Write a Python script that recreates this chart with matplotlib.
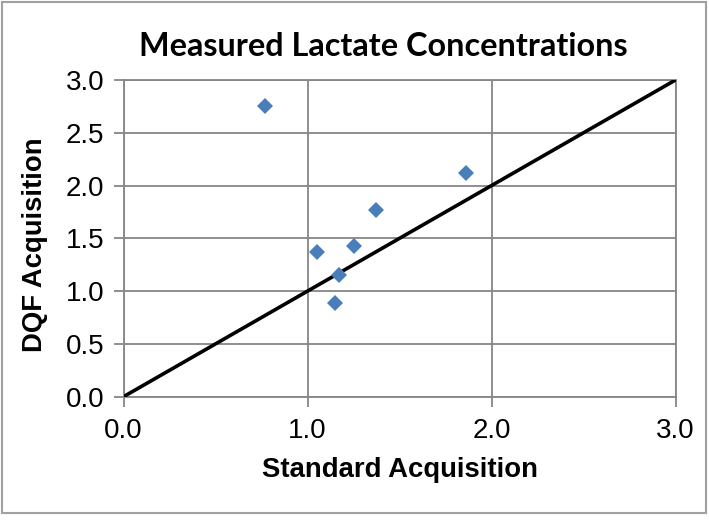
import matplotlib
matplotlib.use('Agg')
import matplotlib.pyplot as plt
from matplotlib.patches import Rectangle

# Data
standard = [0.77, 1.05, 1.17, 1.15, 1.25, 1.37, 1.86]
dqf = [2.75, 1.37, 1.15, 0.89, 1.43, 1.77, 2.12]
identity_x = [0.0, 3.0]
identity_y = [0.0, 3.0]
yticks = [0.0, 0.5, 1.0, 1.5, 2.0, 2.5, 3.0]
xticks = [0.0, 1.0, 2.0, 3.0]
title = "Measured Lactate Concentrations"
xlabel = "Standard Acquisition"
ylabel = "DQF Acquisition"

W, H = 709, 522
fig = plt.figure(figsize=(W / 100, H / 100), dpi=100)

gray = '#868686'
ax = fig.add_axes([123.5 / W, 1 - 396.7 / H, 552 / W, 316.7 / H])
ax.set_xlim(0, 3)
ax.set_ylim(0, 3)
ax.set_xticks(xticks)
ax.set_yticks(yticks)
ax.set_xticklabels([f"{v:.1f}" for v in xticks])
ax.set_yticklabels([f"{v:.1f}" for v in yticks])
ax.grid(True, color=gray, linewidth=1.3)
ax.set_axisbelow(True)
for s in ax.spines.values():
    s.set_color(gray)
    s.set_linewidth(1.3)
ax.tick_params(axis='both', color=gray, width=1.3, length=7, labelsize=20,
               labelcolor='black')
ax.tick_params(axis='y', pad=7)
ax.tick_params(axis='x', pad=8)
for lab in ax.get_xticklabels() + ax.get_yticklabels():
    lab.set_fontfamily('Liberation Sans')

ax.plot(identity_x, identity_y, color='black', linewidth=2.6, zorder=3)
ax.plot(standard, dqf, linestyle='none', marker='D', markersize=7.8,
        color='#4a7ebb', markeredgewidth=0, zorder=4)

fig.text(383 / W, 1 - 56 / H, title, ha='center', va='baseline',
         fontfamily='Lato', fontweight='bold', fontsize=23.3)
fig.text(400 / W, 1 - 476.7 / H, xlabel, ha='center', va='baseline',
         fontfamily='Liberation Sans', fontweight='bold', fontsize=19.8)
fig.text(35 / W, 1 - 245 / H, ylabel, ha='center', va='center', rotation=90,
         fontfamily='Liberation Sans', fontweight='bold', fontsize=19.8)

fig.patches.append(Rectangle((2 / W, 1 - 513 / H), 704 / W, 511 / H,
                             transform=fig.transFigure, fill=False,
                             edgecolor='#a0a0a0', linewidth=1.5))

fig.savefig('out.png', dpi=100)
